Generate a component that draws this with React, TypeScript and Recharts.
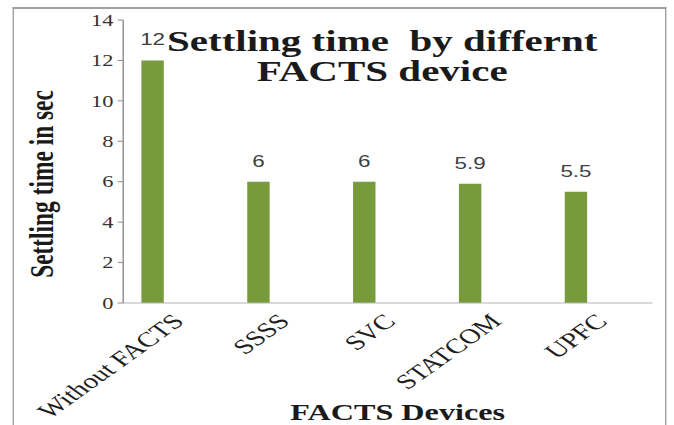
import React from 'react';
import { BarChart, Bar, XAxis, YAxis, LabelList } from 'recharts';

const categories = ['Without FACTS', 'SSSS', 'SVC', 'STATCOM', 'UPFC'];
const settlingTimes = [12, 6, 6, 5.9, 5.5];
const yTicks = [0, 2, 4, 6, 8, 10, 12, 14];
const titleLines = ['Settling time\u00a0\u00a0by differnt', 'FACTS device'];
const yLabel = 'Settling time in sec';
const xLabel = 'FACTS Devices';

const data = categories.map((name, i) => ({ name, value: settlingTimes[i] }));

const SX = 1.4;
const W0 = 481;
const H = 425;
const serif = '"Liberation Serif", "Times New Roman", serif';

function CategoryTick(props: any) {
  const { x, y, payload } = props;
  return (
    <g transform={`translate(${x - 4},${y + 1})`}>
      <text x={0} y={0} dy="0.71em" textAnchor="end" transform="rotate(-45)" fontFamily={serif} fontSize={21} fill="#1e1e1e">
        {payload.value}
      </text>
    </g>
  );
}

export default function App() {
  return (
    <div style={{ position: 'absolute', left: 0, top: 0, width: 674, height: H, overflow: 'hidden', background: '#fff' }}>
      <div style={{ position: 'absolute', left: 0, top: 0, width: W0, height: H, transform: `scaleX(${SX})`, transformOrigin: '0 0' }}>
        <div style={{ position: 'absolute', left: 8.6, top: 7, width: 467, height: 500, borderTop: '2px solid #a0a0a0', borderLeft: '1.3px solid #a0a0a0', borderRight: '1.3px solid #a0a0a0', boxSizing: 'border-box' }} />
        <div style={{ position: 'absolute', left: 0, top: 0 }}>
          <BarChart width={W0} height={H} data={data} margin={{ top: 20, right: 15, bottom: 0, left: 0 }} barGap={17}>
            <XAxis
              dataKey="name"
              height={122}
              interval={0}
              tickLine={false}
              axisLine={{ stroke: '#b5b5b5' }}
              tick={<CategoryTick />}
            />
            <YAxis
              width={88}
              domain={[0, 14]}
              ticks={yTicks}
              interval={0}
              tickSize={4}
              tickMargin={3}
              axisLine={{ stroke: '#8c8c8c' }}
              tickLine={{ stroke: '#8c8c8c' }}
              tick={{ fontFamily: serif, fontSize: 16, fill: '#333' }}
            />
            <Bar dataKey="value" fill="#779a3a" barSize={16} isAnimationActive={false}>
              <LabelList dataKey="value" position="top" offset={15} style={{ fontFamily: '"Liberation Sans", Arial, sans-serif', fontSize: 16, fill: '#404040' }} />
            </Bar>
            <Bar dataKey="none" fill="#779a3a" barSize={16} isAnimationActive={false} />
          </BarChart>
        </div>
        <svg width={W0} height={H} style={{ position: 'absolute', left: 0, top: 0, pointerEvents: 'none' }}>
          <text x={273} y={51} textAnchor="middle" fontFamily={serif} fontWeight="bold" fontSize={29.3} fill="#1a1a1a">{titleLines[0]}</text>
          <text x={273} y={81} textAnchor="middle" fontFamily={serif} fontWeight="bold" fontSize={29.3} fill="#1a1a1a">{titleLines[1]}</text>
          <text transform="translate(30,184) rotate(-90)" textAnchor="middle" dominantBaseline="central" fontFamily={serif} fontWeight="bold" fontSize={23.4} fill="#1a1a1a">{yLabel}</text>
          <text x={284} y={420} textAnchor="middle" fontFamily={serif} fontWeight="bold" fontSize={23} fill="#1a1a1a">{xLabel}</text>
        </svg>
      </div>
    </div>
  );
}
